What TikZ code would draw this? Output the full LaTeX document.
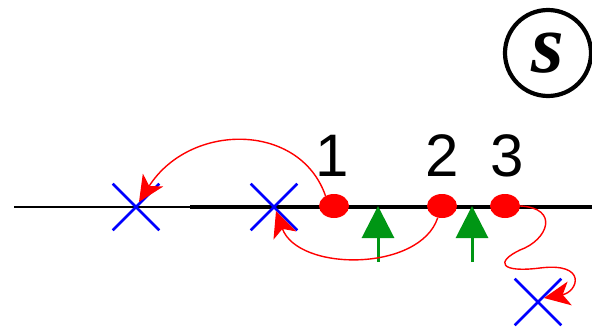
\documentclass[tikz,border=0pt]{standalone}
\usepackage{fontspec}
\setmainfont{Liberation Serif}
\newfontfamily\digitfont{Liberation Sans}
\usetikzlibrary{shapes.misc,shapes.geometric,arrows.meta,calc}
\begin{document}
\begin{tikzpicture}[x=1pt,y=-1pt,
  pole/.style={cross out,draw=blue,line width=2.6pt,minimum size=44pt,inner sep=0pt},
  zero/.style={ellipse,fill=red,minimum width=30pt,minimum height=24pt,inner sep=0pt},
  lab/.style={font=\digitfont\fontsize{60}{64}\selectfont,inner sep=0pt},
  redarc/.style={draw=red,line width=1.4pt,-{Stealth[length=26pt,width=24pt,inset=7pt]}},
  greenarr/.style={draw={rgb,255:red,0;green,150;blue,20},line width=3pt,
     -{Triangle[length=32pt,width=32pt]}},
]
\useasboundingbox (0,0) rectangle (592,327);
% axis
\draw[line width=1.6pt] (14,207) coordinate (a0) -- (190,207) coordinate (a1);
\draw[line width=4.5pt] (a1) -- (592,207) coordinate (a2);
% poles
\node[pole] (x1) at (136,207) {};
\node[pole] (x2) at (274,207) {};
\node[pole] (x3) at (538,302) {};
% zeros
\node[zero] (d1) at (334,206) {};
\node[zero] (d2) at (442,206) {};
\node[zero] (d3) at (505,206) {};
% labels
\node[lab] (l1) at (332,156) {1};
\node[lab] (l2) at (442,156) {2};
\node[lab] (l3) at (507,156) {3};
% green arrows
\coordinate (g1b) at (378,262);
\coordinate (g1t) at (378,206);
\coordinate (g2b) at (472,262);
\coordinate (g2t) at (472,206);
\draw[greenarr] (g1b) -- (g1t);
\draw[greenarr] (g2b) -- (g2t);
% red loci
\draw[redarc] (d1.130) .. controls (300,122) and (190,122) .. ($(x1)+(3,-5)$);
\draw[redarc] (d2.250) .. controls (420,272) and (298,272) .. ($(x2)+(2,4)$);
\draw[redarc] (d3.east) .. controls (560,208) and (548,240) .. (520,250)
   .. controls (495,262) and (500,273) .. (540,268)
   .. controls (588,262) and (578,292) .. ($(x3)+(6,-4)$);
% S circle
\node[circle,draw,line width=4.2pt,minimum size=86pt,inner sep=0pt,
  font=\bfseries\itshape\fontsize{84}{86}\selectfont] (s) at (548,53) {s};
\end{tikzpicture}
\end{document}
